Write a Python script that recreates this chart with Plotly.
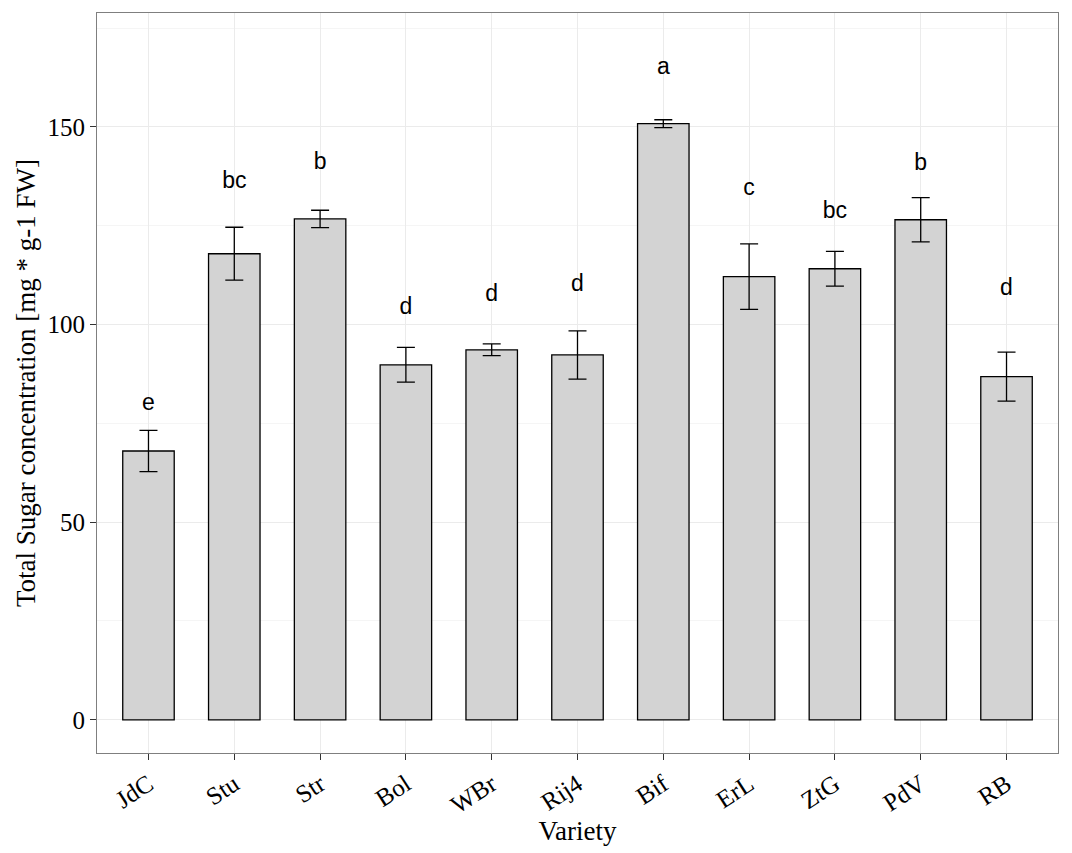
import plotly.graph_objects as go

varieties = ["JdC", "Stu", "Str", "Bol", "WBr", "Rij4", "Bif", "ErL", "ZtG", "PdV", "RB"]
means = [68.0, 117.9, 126.7, 89.8, 93.6, 92.3, 150.8, 112.1, 114.1, 126.5, 86.8]
errors = [5.2, 6.7, 2.2, 4.4, 1.5, 6.1, 1.0, 8.3, 4.4, 5.6, 6.2]
letters = ["e", "bc", "b", "d", "d", "d", "a", "c", "bc", "b", "d"]
letter_y = [79.9, 136.1, 140.9, 104.0, 107.3, 110.0, 164.7, 134.3, 128.3, 140.6, 109.0]

fig = go.Figure()
fig.add_trace(go.Bar(
    x=varieties, y=means, width=0.6,
    marker=dict(color="#D3D3D3", line=dict(color="black", width=1.3)),
    error_y=dict(type="data", array=errors, visible=True, color="black", thickness=1.3, width=9),
    showlegend=False,
))
fig.add_trace(go.Scatter(
    x=varieties, y=letter_y, mode="text", text=letters,
    textfont=dict(family="Liberation Sans, Arial", size=23, color="black"),
    showlegend=False,
))

fig.update_layout(
    width=1064, height=845,
    margin=dict(l=89, r=14, t=5, b=100),
    plot_bgcolor="white", paper_bgcolor="white",
    font=dict(family="Liberation Serif, Times New Roman", color="black"),
)
fig.update_xaxes(
    title=dict(text="Variety", font=dict(size=27), standoff=2),
    tickangle=-33, tickfont=dict(size=25),
    showgrid=True, gridcolor="#EBEBEB",
    ticks="outside", ticklen=6, tickcolor="#333333",
    showline=True, linecolor="#7F7F7F", mirror=True,
    range=[-0.6, 10.6], automargin=False,
)
fig.update_yaxes(
    title=dict(text="Total Sugar concentration [mg * g-1 FW]", font=dict(size=27), standoff=4),
    range=[-8.4, 178.8], tickvals=[0, 50, 100, 150], tickfont=dict(size=25),
    showgrid=True, gridcolor="#EBEBEB", zeroline=False,
    minor=dict(tickvals=[25, 75, 125, 175], showgrid=True, gridcolor="#F5F5F5"),
    ticks="outside", ticklen=6, tickcolor="#333333",
    showline=True, linecolor="#7F7F7F", mirror=True, automargin=False,
)

fig.write_html("out.html")
